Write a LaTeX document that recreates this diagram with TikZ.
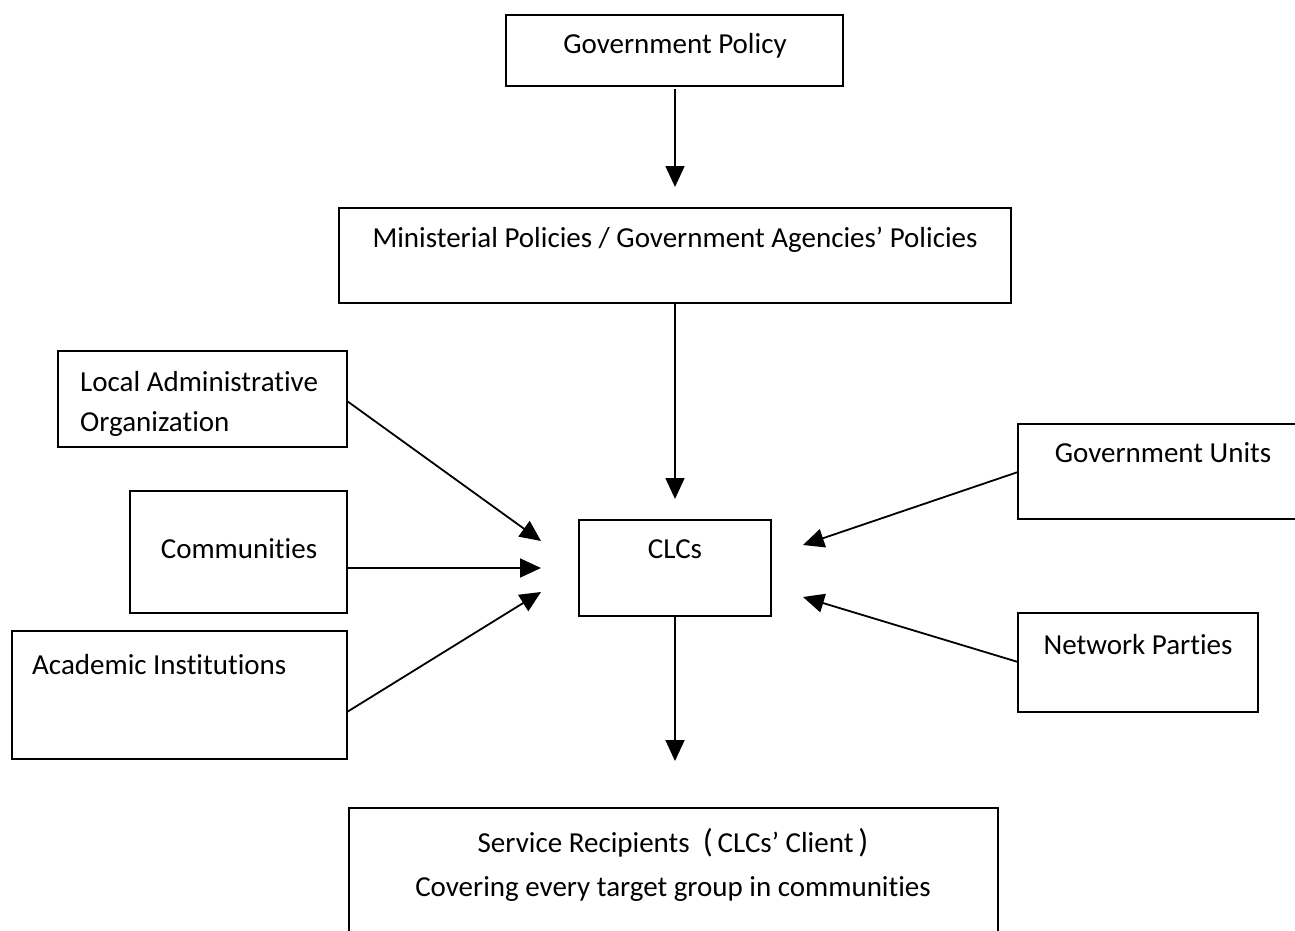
\documentclass[tikz,border=0pt]{standalone}
\usepackage{fontspec}
\setmainfont[Ligatures=NoCommon]{Carlito}
\usetikzlibrary{arrows.meta}
\begin{document}
\begin{tikzpicture}[x=1pt,y=-1pt,
  box/.style={draw,line width=2pt,inner sep=0pt},
  lbl/.style={inner sep=0pt,anchor=base,font=\fontsize{29}{34}\selectfont},
  lbll/.style={lbl,anchor=base west},
  arr/.style={line width=1.8pt,-{Triangle[length=21pt,width=19pt]}}]
\clip (0,0) rectangle (1295,931);
\fill[white] (0,0) rectangle (1295,931);
% boxes
\node[box,minimum width=337pt,minimum height=71pt] (gp) at (674.5,50.5) {};
\node[box,minimum width=672pt,minimum height=95pt] (mp) at (675,255.5) {};
\node[box,minimum width=289pt,minimum height=96pt] (lao) at (202.5,399) {};
\node[box,minimum width=217pt,minimum height=122pt] (com) at (238.5,552) {};
\node[box,minimum width=335pt,minimum height=128pt] (aca) at (179.5,695) {};
\node[box,minimum width=192pt,minimum height=96pt] (clc) at (675,568) {};
\node[box,minimum width=300pt,minimum height=95pt] (gu) at (1168,471.5) {};
\node[box,minimum width=240pt,minimum height=99pt] (np) at (1138,662.5) {};
\node[box,minimum width=649pt,minimum height=150pt] (sr) at (673.5,883) {};
% texts
\node[lbl] (tgp) at (675,54) {Government Policy};
\node[lbl] (tmp) at (675,247) {Ministerial Policies / Government Agencies’ Policies};
\node[lbll] (tlao1) at (80,391) {Local Administrative};
\node[lbll] (tlao2) at (80,431) {Organization};
\node[lbl] (tcom) at (239,558) {Communities};
\node[lbll] (taca) at (32,674) {Academic Institutions};
\node[lbl] (tclc) at (675,558) {CLCs};
\node[lbl] (tgu) at (1163,462) {Government Units};
\node[lbl] (tnp) at (1138,654) {Network Parties};
\node[lbl] (tsr1) at (673,852) {Service Recipients\ \ {\fontsize{33}{33}\selectfont(}\,CLCs’ Client\,{\fontsize{33}{33}\selectfont)}};
\node[lbl] (tsr2) at (673,896) {Covering every target group in communities};
% free arrow ends
\coordinate (e1) at (675,187);
\coordinate (e2) at (675,499);
\coordinate (e3) at (675,761);
\coordinate (eL) at (541,541);
\coordinate (eC) at (541,568);
\coordinate (eA) at (541,592);
\coordinate (eG) at (803,545);
\coordinate (eN) at (803,597);
\coordinate (sL) at (347,401);
\coordinate (sC) at (347,568);
\coordinate (sG) at (1018,472);
\coordinate (sN) at (1018,662);
\coordinate (sA) at (347,712);
\coordinate (s1) at (675,89);
% arrows
\draw[arr] (s1) -- (e1);
\draw[arr] (mp.south) -- (e2);
\draw[arr] (clc.south) -- (e3);
\draw[arr] (sL) -- (eL);
\draw[arr] (sC) -- (eC);
\draw[arr] (sA) -- (eA);
\draw[arr] (sG) -- (eG);
\draw[arr] (sN) -- (eN);
\end{tikzpicture}
\end{document}
